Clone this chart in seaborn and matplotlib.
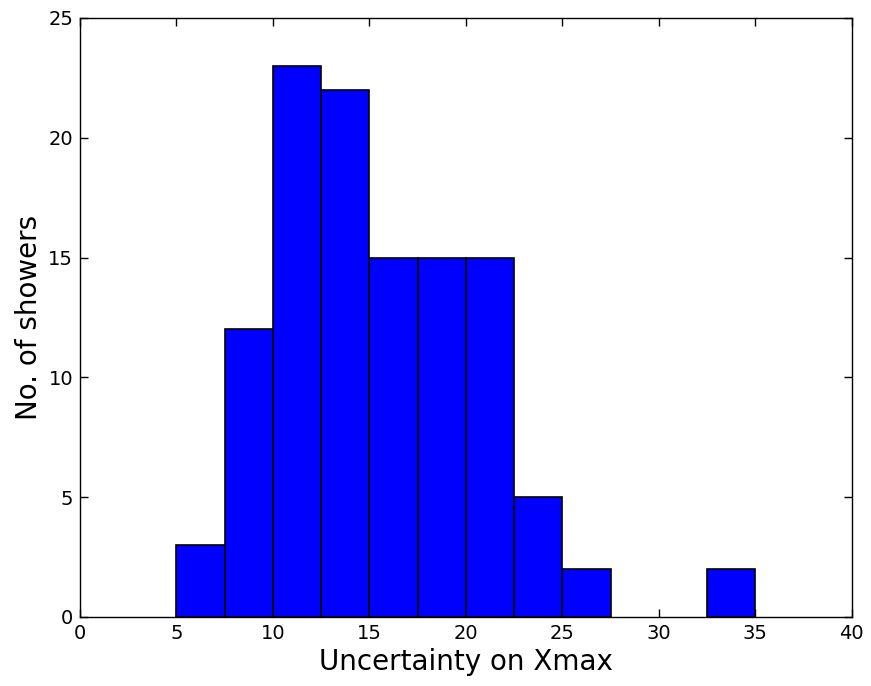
import numpy as np
import seaborn as sns
import matplotlib
matplotlib.use("Agg")
import matplotlib.pyplot as plt

# DATA

bin_edges = [5, 7.5, 10, 12.5, 15, 17.5, 20, 22.5, 25, 27.5, 30, 32.5, 35]
counts = [3, 12, 23, 22, 15, 15, 15, 5, 2, 0, 0, 2]
bin_centers = [(a + b) / 2 for a, b in zip(bin_edges[:-1], bin_edges[1:])]

x_ticks = [0, 5, 10, 15, 20, 25, 30, 35, 40]
y_ticks = [0, 5, 10, 15, 20, 25]

# PLOT

sns.set_style("ticks")
plt.rcParams["font.family"] = ["DejaVu Sans"]
plt.rcParams["text.color"] = "black"
plt.rcParams["axes.labelcolor"] = "black"
plt.rcParams["xtick.color"] = "black"
plt.rcParams["ytick.color"] = "black"

fig = plt.figure(figsize=(8.71, 6.86), dpi=100)
ax = fig.add_axes([0.0918, 0.1006, 0.8862, 0.8732])

sns.histplot(
    x=bin_centers,
    weights=counts,
    bins=bin_edges,
    color="#0000ff",
    edgecolor="black",
    linewidth=1.2,
    alpha=1,
    ax=ax
)

# empty bins draw no outline
for p in ax.patches:
    if p.get_height() == 0:
        p.set_linewidth(0)

ax.set_xlim(0, 40)
ax.set_ylim(0, 25)
ax.set_xticks(x_ticks)
ax.set_yticks(y_ticks)

ax.tick_params(
    direction="in",
    top=True,
    right=True,
    length=6,
    width=1,
    labelsize=14,
    pad=5
)

for s in ax.spines.values():
    s.set_visible(True)
    s.set_linewidth(1)
    s.set_color("black")

ax.set_xlabel("Uncertainty on Xmax", fontsize=20)
ax.set_ylabel("No. of showers", fontsize=20)

plt.savefig("out.png", dpi=100)
plt.close()
